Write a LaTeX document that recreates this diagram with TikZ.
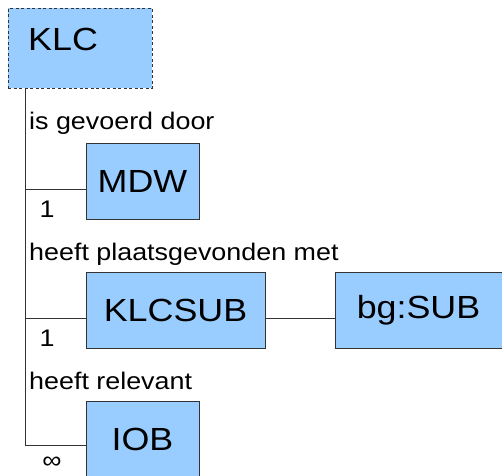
\documentclass[tikz,border=0pt]{standalone}
\usepackage{fontspec}
\setmainfont{Liberation Sans}[FakeStretch=1.12]
\usetikzlibrary{calc,positioning}
\definecolor{boxblue}{RGB}{153,204,255}
\definecolor{edgegray}{RGB}{51,51,51}
\tikzset{
entity/.style={
  rectangle,
  line width=1pt,
  draw=edgegray,
  fill=boxblue,
  inner sep=0pt,
  minimum height=76pt,
  font=\fontsize{32}{36}\selectfont,
  }
}
\tikzset{
rootbox/.style={
  entity,
  dash pattern=on 3pt off 2.5pt,
  minimum width=144pt,
  minimum height=80pt,
  }
}
\tikzset{
rel/.style={
  inner sep=0pt,
  font=\fontsize{24}{28}\selectfont,
  }
}
\tikzset{
link/.style={
  line width=1pt,
  draw=edgegray,
  }
}

\begin{document}
\begin{tikzpicture}[x=1pt,y=-1pt]
    \useasboundingbox (0,0) rectangle (502,475);

    % entities
    \node[rootbox] (klc) at (80,48) {};
    \node[anchor=west, font=\fontsize{32}{36}\selectfont, inner sep=0pt] (klctext) at (28,39) {KLC};
    \node[entity, minimum width=113pt] (mdw) at (142.5,181) {MDW};
    \node[entity, minimum width=179pt] (klcsub) at (175.5,310) {KLCSUB};
    \node[entity, minimum width=167pt] (bgsub) at (418.5,310) {bg:SUB};
    \node[entity, minimum width=113pt] (iob) at (142.5,439) {IOB};

    % relation labels
    \node[rel, anchor=base west] (gevoerd) at (29,129) {is gevoerd door};
    \node[rel, anchor=base west] (plaats) at (29,260) {heeft plaatsgevonden met};
    \node[rel, anchor=base west] (relevant) at (29,389) {heeft relevant};

    % multiplicities
    \node[rel] (m1) at (47,209) {1};
    \node[rel] (m2) at (47,338) {1};
    \node[rel] (m3) at (52,463) {∞};

    % spine edges
    \coordinate (spine) at (25,88);
    \coordinate (mdwin) at ($(mdw.west)+(0,8)$);
    \coordinate (subin) at ($(klcsub.west)+(0,8)$);
    \draw[link] (spine) |- ($(iob.west)+(0,6)$);
    \draw[link] (spine |- mdwin) -- (mdwin);
    \draw[link] (spine |- subin) -- (subin);
    \draw[link] ($(klcsub.east)+(0,8)$) -- ($(bgsub.west)+(0,8)$);
\end{tikzpicture}
\end{document}
